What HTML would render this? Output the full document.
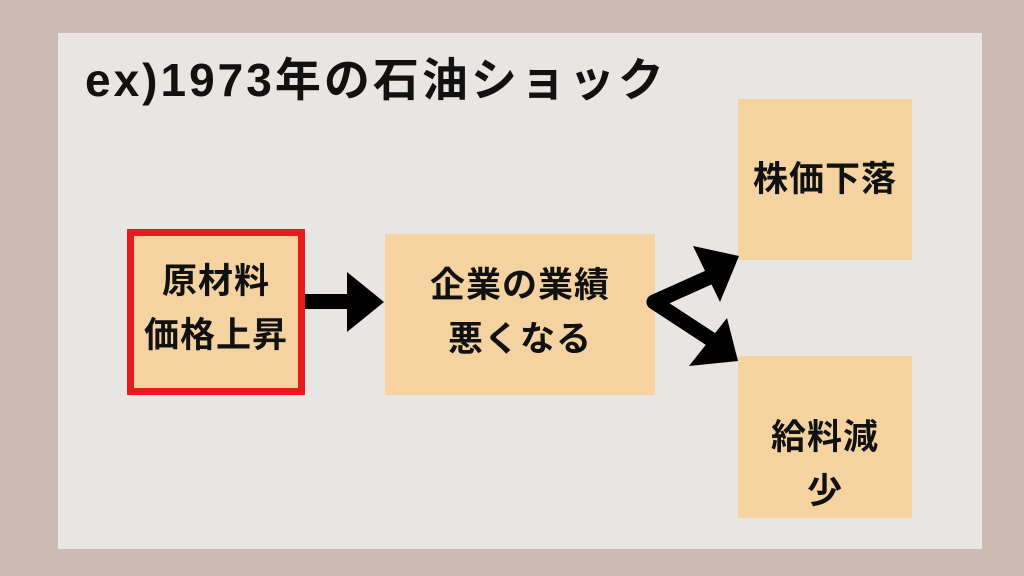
<!DOCTYPE html>
<html><head><meta charset="utf-8"><style>
body{margin:0;width:1024px;height:576px;background:#cbbbb0;position:relative;overflow:hidden;font-family:"Liberation Sans","Noto Sans CJK JP",sans-serif;font-weight:bold;color:#111}
.panel{position:absolute;left:58px;top:33px;width:924px;height:516px;background:#e9e5e2}
.box{position:absolute;background:#f5d3a0;box-sizing:border-box}
.t{position:absolute;white-space:nowrap;text-align:center;font-size:35px;line-height:54px;letter-spacing:1px}
</style></head><body>
<div class="panel"></div>
<div style="position:absolute;left:85px;top:50px;font-size:46px;line-height:60px;letter-spacing:3px;white-space:nowrap">ex)1973年の石油ショック</div>
<div class="box" style="left:127px;top:229px;width:178px;height:166px;border:7px solid #e81a1b"></div>
<div class="t" style="left:127px;top:255px;width:178px">原材料<br>価格上昇</div>
<div class="box" style="left:385px;top:234px;width:270px;height:161px"></div>
<div class="t" style="left:385px;top:259px;width:270px">企業の業績<br>悪くなる</div>
<div class="box" style="left:738px;top:99px;width:174px;height:161px"></div>
<div class="t" style="left:738px;top:153px;width:174px">株価下落</div>
<div class="box" style="left:738px;top:356px;width:174px;height:162px"></div>
<div class="t" style="left:738px;top:411px;width:174px">給料減<br>少</div>
<svg style="position:absolute;left:0;top:0" width="1024" height="576">
<rect x="305" y="294" width="45" height="15" fill="#000"/>
<polygon points="347,272 384,302 347,332" fill="#000"/>
<polyline points="712,276 654,302 712,340" fill="none" stroke="#000" stroke-width="15" stroke-linejoin="round" stroke-linecap="round"/>
<polygon points="693,246 739,256 720,302" fill="#000"/>
<polygon points="727,318 738,361 689,366" fill="#000"/>
</svg>
</body></html>
